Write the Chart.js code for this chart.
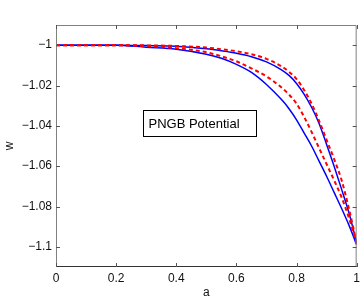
<!DOCTYPE html>
<html>
<head>
<meta charset="utf-8">
<script src="https://cdn.jsdelivr.net/npm/chart.js@4/dist/chart.umd.min.js"></script>
<style>
html,body{margin:0;padding:0;background:#fff;}
#wrap{position:relative;width:364px;height:300px;}
</style>
</head>
<body>
<div id="wrap"><canvas id="c" width="364" height="300"></canvas></div>
<script>
// ---- data ----
const aValues  = [0, 0.1, 0.2, 0.3, 0.4, 0.5, 0.55, 0.6, 0.65, 0.7, 0.75, 0.775, 0.8, 0.825, 0.85, 0.875, 0.9, 0.925, 0.95, 0.975, 1.0];
const blueLower = [-1, -1, -1, -1.001, -1.002, -1.0045, -1.0065, -1.0095, -1.0135, -1.0195, -1.027, -1.0315, -1.037, -1.0435, -1.050, -1.0575, -1.065, -1.073, -1.081, -1.0895, -1.099];
const redLower  = [-1, -1, -1, -1.0005, -1.0015, -1.0035, -1.0055, -1.008, -1.0115, -1.0155, -1.021, -1.0245, -1.029, -1.0355, -1.043, -1.051, -1.059, -1.067, -1.0755, -1.086, -1.0985];
const blueUpper = [-1, -1, -1, -1.0002, -1.0005, -1.0018, -1.0028, -1.004, -1.0057, -1.0083, -1.0122, -1.0150, -1.019, -1.0243, -1.0308, -1.0388, -1.0492, -1.060, -1.0715, -1.0835, -1.098];
const redUpper  = [-1, -1, -1, -1.0001, -1.0004, -1.0012, -1.002, -1.003, -1.0045, -1.0068, -1.0105, -1.0132, -1.0168, -1.0222, -1.029, -1.0375, -1.047, -1.0565, -1.067, -1.0815, -1.098];
const xTicks = [0, 0.2, 0.4, 0.6, 0.8, 1];
const yTicks = [-1.1, -1.08, -1.06, -1.04, -1.02, -1];
const xLabel = 'a';
const yLabel = 'w';
const boxText = 'PNGB Potential';

const FONT = "'Liberation Sans', Arial, Helvetica, sans-serif";

function pts(ys){ return aValues.map((a,i)=>({x:a, y:ys[i]})); }
function fmt(v){
  let s = (Math.round(v*100)/100).toString();
  return s.replace('-', '\u2212');
}

const frame = {
  id: 'frame',
  afterDraw(chart){
    const {ctx, chartArea:ca, scales:{x, y}} = chart;
    ctx.save();
    ctx.lineWidth = 1;
    ctx.strokeStyle = '#808080';
    ctx.beginPath();
    ctx.moveTo(ca.left+0.5, ca.bottom); ctx.lineTo(ca.left+0.5, ca.top+0.5);
    ctx.lineTo(ca.right-0.5, ca.top+0.5); ctx.lineTo(ca.right-0.5, ca.bottom);
    ctx.stroke();
    ctx.strokeStyle = '#333';
    ctx.beginPath();
    ctx.moveTo(ca.left, ca.bottom-0.5); ctx.lineTo(ca.right, ca.bottom-0.5);
    ctx.stroke();
    const L = 4;
    ctx.strokeStyle = '#555';
    ctx.beginPath();
    xTicks.forEach(v=>{
      const px = Math.round(x.getPixelForValue(v))+0.5;
      ctx.moveTo(px, ca.bottom); ctx.lineTo(px, ca.bottom-L);
      ctx.moveTo(px, ca.top); ctx.lineTo(px, ca.top+L);
    });
    yTicks.forEach(v=>{
      const py = Math.round(y.getPixelForValue(v))+0.5;
      ctx.moveTo(ca.left, py); ctx.lineTo(ca.left+L, py);
      ctx.moveTo(ca.right, py); ctx.lineTo(ca.right-L, py);
    });
    ctx.stroke();
    const bx0 = Math.round(x.getPixelForValue(0.288))+0.5;
    const bx1 = Math.round(x.getPixelForValue(0.666))+0.5;
    const by0 = Math.round(y.getPixelForValue(-1.0322))+0.5;
    const by1 = Math.round(y.getPixelForValue(-1.045))+0.5;
    ctx.fillStyle = '#fff';
    ctx.fillRect(bx0, by0, bx1-bx0, by1-by0);
    ctx.strokeStyle = '#000';
    ctx.lineWidth = 1;
    ctx.strokeRect(bx0, by0, bx1-bx0, by1-by0);
    ctx.fillStyle = '#000';
    ctx.font = '13px ' + FONT;
    ctx.textBaseline = 'middle';
    ctx.textAlign = 'left';
    ctx.fillText(boxText, bx0+5, (by0+by1)/2+0.5);
    ctx.restore();
  }
};

const lineBase = {pointRadius:0, cubicInterpolationMode:'monotone', fill:false};

new Chart(document.getElementById('c'), {
  type: 'line',
  data: {
    datasets: [
      Object.assign({data: pts(blueLower), borderColor:'#0000ff', borderWidth:1.5, order:2}, lineBase),
      Object.assign({data: pts(blueUpper), borderColor:'#0000ff', borderWidth:1.5, order:2}, lineBase),
      Object.assign({data: pts(redLower), borderColor:'#ff0000', borderWidth:2, borderDash:[4,3], order:1}, lineBase),
      Object.assign({data: pts(redUpper), borderColor:'#ff0000', borderWidth:2, borderDash:[4,3], order:1}, lineBase)
    ]
  },
  options: {
    responsive: false,
    animation: false,
    devicePixelRatio: 1,
    layout: {padding: {top: 25, right: 6, left: 0, bottom: 0}},
    plugins: {legend:{display:false}, tooltip:{enabled:false}},
    scales: {
      x: {
        type: 'linear', min: 0, max: 1,
        afterBuildTicks(s){ s.ticks = xTicks.map(v=>({value:v})); },
        afterFit(s){ s.height = 33; },
        grid: {display:false, drawTicks:false},
        border: {display:false},
        ticks: {padding: 4, color:'#111', font:{family:FONT, size:12}, maxRotation:0,
                callback: v => fmt(v)},
        title: {display:true, text:xLabel, color:'#111', font:{family:FONT, size:12}, padding:{top:0,bottom:0}}
      },
      y: {
        type: 'linear', min: -1.11, max: -0.99,
        afterBuildTicks(s){ s.ticks = yTicks.map(v=>({value:v})); },
        afterFit(s){ s.width = 56; },
        grid: {display:false, drawTicks:false},
        border: {display:false},
        ticks: {padding: 4, color:'#111', font:{family:FONT, size:12}, callback: v => fmt(v)},
        title: {display:true, text:yLabel, color:'#111', font:{family:FONT, size:12}, padding:{top:2,bottom:0}}
      }
    }
  },
  plugins: [frame]
});
</script>
</body>
</html>
